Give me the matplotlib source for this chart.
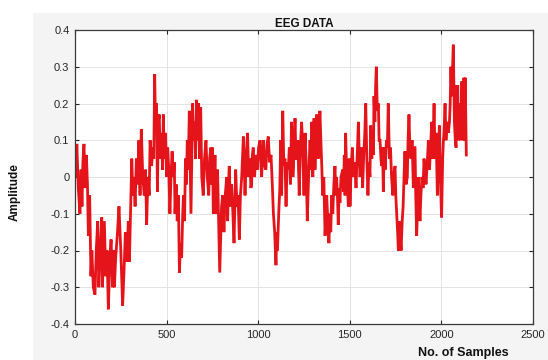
import matplotlib
matplotlib.use("Agg")
import matplotlib.pyplot as plt
from matplotlib.patches import Rectangle

samples = [0, 5, 10, 18, 27, 33, 38, 43, 49, 55, 62, 68, 73, 80, 87, 92, 100, 109, 116, 124, 130, 138, 146, 150, 160, 168, 175, 182, 190, 197, 205, 210, 215, 222, 232, 240, 250, 260, 268, 275, 283, 291, 297, 303, 310, 316, 322, 328, 335, 341, 349, 355, 362, 370, 378, 385, 391, 398, 405, 410, 418, 425, 430, 435, 440, 445, 450, 455, 460, 465, 472, 478, 482, 488, 494, 500, 506, 512, 518, 524, 530, 537, 542, 546, 552, 558, 564, 570, 576, 582, 588, 592, 598, 603, 608, 613, 618, 624,
           633, 642, 648, 654, 658, 664, 670, 675, 680, 686, 692, 700, 707, 715, 722, 730, 735, 741, 746, 750, 755, 764, 768, 773, 778, 784, 790, 796, 800, 806, 813, 820, 828, 833, 838, 842, 848, 855, 862, 868, 877, 884, 890, 897, 903, 910, 915, 919, 924, 928, 935, 942, 948, 955, 960, 964, 968, 973, 980, 988, 995, 1002, 1010, 1015, 1019, 1024, 1028, 1035, 1042, 1048, 1055, 1062, 1070, 1077, 1083, 1090, 1097, 1101, 1105, 1112, 1118, 1123, 1128, 1134, 1140, 1146, 1152, 1158, 1164, 1170, 1176, 1182, 1191, 1196, 1201, 1206, 1210, 1216, 1224, 1230, 1237,
           1243, 1250, 1256, 1261, 1268, 1275, 1283, 1288, 1292, 1298, 1305, 1310, 1315, 1319, 1324, 1328, 1333, 1337, 1342, 1347, 1352, 1358, 1365, 1370, 1374, 1380, 1386, 1391, 1396, 1401, 1407, 1413, 1419, 1424, 1428, 1433, 1437, 1442, 1446, 1452, 1461, 1466, 1470, 1474, 1477, 1482, 1487, 1492, 1497, 1501, 1507, 1514, 1520, 1527, 1534, 1540, 1547, 1552, 1556, 1560, 1565, 1570, 1576, 1582, 1587, 1593, 1599, 1605, 1610, 1614, 1620, 1625, 1629, 1632, 1637, 1641, 1645, 1650, 1656, 1660, 1665, 1670, 1674, 1679, 1683, 1688, 1693, 1700, 1705, 1710, 1716, 1722, 1728, 1735, 1741, 1747, 1751, 1756, 1761, 1765, 1770, 1774, 1780, 1786, 1791, 1796, 1801, 1807, 1814, 1818, 1823, 1828, 1834, 1840, 1847, 1852, 1856, 1860, 1865, 1870, 1874, 1878, 1883,
           1888, 1894, 1900, 1905, 1910, 1916, 1922, 1929, 1935, 1941, 1947, 1953, 1960, 1965, 1971, 1975, 1978, 1983, 1989, 1994, 2001, 2007, 2011, 2014, 2020, 2025, 2031, 2038, 2044, 2048, 2052, 2056, 2061, 2065, 2071, 2076, 2080, 2083, 2086, 2089, 2094, 2098, 2105, 2112, 2116, 2120, 2123, 2125, 2130, 2136]

amplitude = [0.08, 0.0, 0.09, -0.03, -0.1, 0.02, -0.08, 0.04, 0.09, -0.03, 0.06, -0.02, -0.16, -0.05, -0.27, -0.2, -0.3, -0.32, -0.2, -0.12, -0.3, -0.2, -0.11, -0.3, -0.12, -0.27, -0.2, -0.36, -0.22, -0.17, -0.3, -0.2, -0.3, -0.22, -0.15, -0.08, -0.2, -0.35, -0.25, -0.15, -0.23, -0.12, -0.23, -0.1, 0.05, -0.05, 0.0, -0.08, 0.05, -0.02, 0.1, -0.05, 0.13, 0.0, -0.05, 0.02, -0.13, 0.0, -0.05, 0.1, 0.03, 0.08, 0.05, 0.28, 0.12, 0.2, -0.04, 0.15, 0.17, 0.05, 0.12, 0.02, 0.17, 0.05, 0.12, 0.0, 0.08, 0.02, -0.1, 0.0, 0.07, 0.0, 0.04, -0.1, -0.02, -0.12, -0.05, -0.26, -0.18, -0.22, -0.1, -0.05, -0.12, 0.05, -0.02, 0.1, 0.02, 0.18,
             -0.1, 0.2, 0.1, 0.15, 0.05, 0.21, 0.1, 0.2, 0.05, 0.19, 0.0, -0.05, 0.05, 0.1, 0.0, -0.05, 0.05, 0.08, -0.02, 0.08, -0.1, 0.06, -0.03, -0.1, 0.02, -0.12, -0.26, -0.15, -0.08, -0.05, -0.15, -0.05, 0.0, -0.12, -0.02, 0.03, -0.08, -0.02, -0.1, -0.18, 0.02, -0.08, -0.05, -0.17, -0.05, 0.0, 0.06, 0.11, 0.03, -0.05, 0.06, 0.12, 0.0, 0.05, -0.03, -0.02, 0.06, 0.08, 0.0, 0.06, 0.02, 0.08, 0.1, 0.03, 0.0, 0.07, 0.1, 0.03, 0.02, 0.09, 0.11, 0.04, 0.06, -0.02, -0.1, -0.15, -0.24, -0.15, -0.2, -0.1, -0.03, 0.1, -0.05, 0.18, 0.03, 0.05, -0.08, 0.04, 0.02, 0.08, -0.02, 0.15, 0.0, 0.08, 0.16, 0.05, 0.05, 0.1, -0.05, 0.08, 0.15,
             0.08, -0.05, 0.12, 0.05, -0.12, 0.0, 0.1, 0.02, 0.15, 0.0, 0.16, 0.02, 0.12, 0.17, 0.08, 0.05, 0.14, 0.18, 0.1, 0.03, -0.05, 0.0, -0.16, -0.1, -0.05, -0.12, -0.18, -0.1, -0.15, -0.05, -0.1, -0.02, 0.03, -0.05, 0.0, -0.06, -0.13, -0.03, -0.07, 0.0, 0.02, -0.04, 0.06, -0.05, 0.12, 0.03, -0.02, -0.08, 0.05, -0.08, 0.02, 0.08, 0.0, 0.04, -0.03, 0.05, 0.15, 0.05, 0.0, 0.04, 0.08, -0.03, 0.06, 0.12, 0.2, 0.05, -0.05, 0.04, 0.0, 0.14, 0.05, 0.1, 0.06, 0.22, 0.15, 0.25, 0.3, 0.18, 0.2, 0.1, 0.1, 0.05, 0.03, 0.08, -0.04, 0.08, 0.02, 0.1, 0.08, 0.2, 0.05, 0.08, 0.0, -0.05, 0.01, 0.03, -0.05, -0.1, -0.15, -0.2, -0.12, -0.15, -0.2, -0.12, -0.08, 0.0, 0.07, -0.02, 0.0, 0.1, 0.17, 0.08, 0.05, 0.1, -0.03, 0.08, 0.08, -0.05, -0.16, -0.08, 0.0, -0.05, -0.12,
             -0.05, 0.0, -0.03, 0.05, 0.02, -0.02, 0.03, 0.1, 0.02, 0.08, 0.15, 0.05, 0.2, 0.05, 0.12, 0.03, -0.05, 0.05, 0.14, 0.0, -0.11, 0.05, 0.1, 0.12, 0.2, 0.1, 0.15, 0.12, 0.15, 0.2, 0.3, 0.22, 0.3, 0.36, 0.15, 0.1, 0.08, 0.25, 0.15, 0.25, 0.1, 0.2, 0.1, 0.26, 0.15, 0.1, 0.27, 0.1, 0.27, 0.06]

xticks = [0, 500, 1000, 1500, 2000, 2500]
yticks = [-0.4, -0.3, -0.2, -0.1, 0, 0.1, 0.2, 0.3, 0.4]
ytick_labels = ["-0.4", "-0.3", "-0.2", "-0.1", "0", "0.1", "0.2", "0.3", "0.4"]

plt.rcParams['font.family'] = ['Liberation Sans', 'DejaVu Sans']

fig = plt.figure(figsize=(5.48, 3.6), dpi=100)
fig.patch.set_facecolor('white')
fig.add_artist(Rectangle((0.06, 0.0), 0.94, 0.964, transform=fig.transFigure,
                         facecolor='#f4f4f4', edgecolor='none', zorder=-10))

ax = fig.add_axes([75/548, 1 - 324/360, (533 - 75)/548, (324 - 30)/360])
ax.set_facecolor('white')
ax.plot(samples, amplitude, color='#e5141b', linewidth=2.0, solid_joinstyle='miter')

ax.set_xlim(0, 2500)
ax.set_ylim(-0.4, 0.4)
ax.set_xticks(xticks)
ax.set_xticklabels([str(t) for t in xticks])
ax.set_yticks(yticks)
ax.set_yticklabels(ytick_labels)
ax.grid(True, color='#e3e3e3', linewidth=0.7)
ax.set_axisbelow(True)
ax.tick_params(direction='in', top=True, right=True, length=3, width=0.8,
               labelsize=8, colors='#262626', pad=4)
for s in ax.spines.values():
    s.set_color('#3a3a3a')
    s.set_linewidth(0.9)

ax.set_title('EEG DATA', fontsize=8.5, fontweight='bold', pad=2.5, color='#111111')
fig.text(15/548, 1 - 192/360, 'Amplitude', rotation=90, ha='center', va='center',
         fontsize=8.5, fontweight='bold', color='#111111')
fig.text(463/548, 1 - 353/360, 'No. of Samples', ha='center', va='center',
         fontsize=9, fontweight='bold', color='#111111')

fig.savefig('out.png', dpi=100)
